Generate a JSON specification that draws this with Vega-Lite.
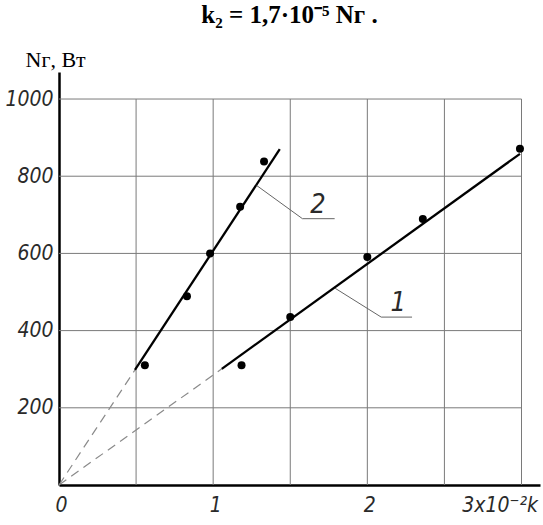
{
  "$schema": "https://vega.github.io/schema/vega-lite/v6.json",
  "width": 481,
  "height": 413,
  "autosize": "none",
  "padding": {"left": 59, "top": 72, "right": 3, "bottom": 40},
  "background": "white",
  "config": {"view": {"stroke": null}},
  "title": {
    "text": "k₂ = 1,7·10⁻⁵ Nᴦ .",
    "font": "Liberation Serif",
    "fontSize": 25,
    "fontWeight": "bold",
    "color": "black",
    "anchor": "middle",
    "dx": -10,
    "dy": 0,
    "offset": 20
  },
  "datasets": {
    "pts": [
      {"k": 0.557, "n": 310, "s": "2"},
      {"k": 0.83, "n": 489, "s": "2"},
      {"k": 0.98, "n": 600, "s": "2"},
      {"k": 1.175, "n": 721, "s": "2"},
      {"k": 1.33, "n": 838, "s": "2"},
      {"k": 1.184, "n": 310, "s": "1"},
      {"k": 1.5, "n": 435, "s": "1"},
      {"k": 2.0, "n": 591, "s": "1"},
      {"k": 2.36, "n": 689, "s": "1"},
      {"k": 2.99, "n": 871, "s": "1"}
    ],
    "fit": [
      {"s": "2", "k": 0.4925, "n": 298},
      {"s": "2", "k": 1.432, "n": 870},
      {"s": "1", "k": 1.056, "n": 301},
      {"s": "1", "k": 2.99, "n": 858}
    ],
    "dash": [
      {"s": "2", "k": 0, "n": 0},
      {"s": "2", "k": 0.4925, "n": 298},
      {"s": "1", "k": 0, "n": 0},
      {"s": "1", "k": 1.056, "n": 301}
    ],
    "leader": [
      {"s": "2", "o": 1, "k": 1.282, "n": 776},
      {"s": "2", "o": 2, "k": 1.579, "n": 690},
      {"s": "2", "o": 3, "k": 1.788, "n": 690},
      {"s": "1", "o": 1, "k": 1.79, "n": 510},
      {"s": "1", "o": 2, "k": 2.09, "n": 435},
      {"s": "1", "o": 3, "k": 2.29, "n": 435}
    ],
    "labels": [
      {"s": "2", "k": 1.68, "n": 726},
      {"s": "1", "k": 2.2, "n": 471}
    ],
    "vgrid": [
      {"k": 0.5, "n0": 0, "n1": 1000},
      {"k": 1.0, "n0": 0, "n1": 1000},
      {"k": 1.5, "n0": 0, "n1": 1000},
      {"k": 2.0, "n0": 0, "n1": 1000},
      {"k": 2.5, "n0": 0, "n1": 1000},
      {"k": 3.0, "n0": 0, "n1": 1000}
    ],
    "hgrid": [
      {"n": 200, "k0": 0, "k1": 3},
      {"n": 400, "k0": 0, "k1": 3},
      {"n": 600, "k0": 0, "k1": 3},
      {"n": 800, "k0": 0, "k1": 3},
      {"n": 1000, "k0": 0, "k1": 3}
    ]
  },
  "layer": [
    {
      "data": {"name": "vgrid"},
      "mark": {"type": "rule", "color": "#7a7a7a", "strokeWidth": 1},
      "encoding": {
        "x": {
          "field": "k", "type": "quantitative",
          "scale": {"domain": [0, 3.12], "nice": false, "zero": false},
          "axis": {
            "values": [0, 1, 2, 3],
            "title": null,
            "grid": false,
            "ticks": false,
            "domainColor": "black",
            "domainWidth": 2.5,
            "labelFont": "DejaVu Sans Condensed",
            "labelFontSize": 21,
            "labelFontStyle": "italic",
            "labelColor": "#2a2a2a",
            "labelPadding": 9,
            "labelFlush": false,
            "labelOverlap": false,
            "labelExpr": "datum.value == 3 ? '3x10⁻²k' : format(datum.value, 'd')",
            "labelAlign": {"condition": {"test": "datum.value == 3", "value": "right"}, "value": "center"},
            "labelOffset": {"condition": {"test": "datum.value == 3", "value": 16}, "value": 2}
          }
        },
        "y": {
          "field": "n0", "type": "quantitative",
          "scale": {"domain": [0, 1070], "nice": false, "zero": false},
          "axis": {
            "values": [200, 400, 600, 800, 1000],
            "format": "d",
            "title": "Nᴦ, Вт",
            "titleFont": "Liberation Serif",
            "titleFontSize": 22,
            "titleFontWeight": "normal",
            "titleColor": "black",
            "titleAngle": 0,
            "titleAlign": "left",
            "titleBaseline": "alphabetic",
            "titleX": -34,
            "titleY": -6,
            "grid": false,
            "ticks": false,
            "domainColor": "black",
            "domainWidth": 2.5,
            "labelFont": "DejaVu Sans Condensed",
            "labelFontSize": 21,
            "labelFontStyle": "italic",
            "labelColor": "#2a2a2a",
            "labelPadding": 6
          }
        },
        "y2": {"field": "n1"}
      }
    },
    {
      "data": {"name": "hgrid"},
      "mark": {"type": "rule", "color": "#7a7a7a", "strokeWidth": 1},
      "encoding": {
        "y": {"field": "n", "type": "quantitative"},
        "x": {"field": "k0", "type": "quantitative"},
        "x2": {"field": "k1"}
      }
    },
    {
      "data": {"name": "dash"},
      "mark": {"type": "line", "color": "#8a8a8a", "strokeWidth": 1.2, "strokeDash": [9, 6]},
      "encoding": {
        "x": {"field": "k", "type": "quantitative"},
        "y": {"field": "n", "type": "quantitative"},
        "detail": {"field": "s"}
      }
    },
    {
      "data": {"name": "fit"},
      "mark": {"type": "line", "color": "black", "strokeWidth": 2.3},
      "encoding": {
        "x": {"field": "k", "type": "quantitative"},
        "y": {"field": "n", "type": "quantitative"},
        "detail": {"field": "s"}
      }
    },
    {
      "data": {"name": "leader"},
      "mark": {"type": "line", "color": "#666", "strokeWidth": 1},
      "encoding": {
        "x": {"field": "k", "type": "quantitative"},
        "y": {"field": "n", "type": "quantitative"},
        "detail": {"field": "s"},
        "order": {"field": "o"}
      }
    },
    {
      "data": {"name": "pts"},
      "mark": {"type": "circle", "color": "black", "size": 64, "opacity": 1},
      "encoding": {
        "x": {"field": "k", "type": "quantitative"},
        "y": {"field": "n", "type": "quantitative"}
      }
    },
    {
      "data": {"name": "labels"},
      "mark": {
        "type": "text",
        "font": "DejaVu Sans Condensed",
        "fontSize": 27,
        "fontStyle": "italic",
        "color": "#2a2a2a",
        "align": "center",
        "baseline": "middle"
      },
      "encoding": {
        "x": {"field": "k", "type": "quantitative"},
        "y": {"field": "n", "type": "quantitative"},
        "text": {"field": "s"}
      }
    }
  ]
}
